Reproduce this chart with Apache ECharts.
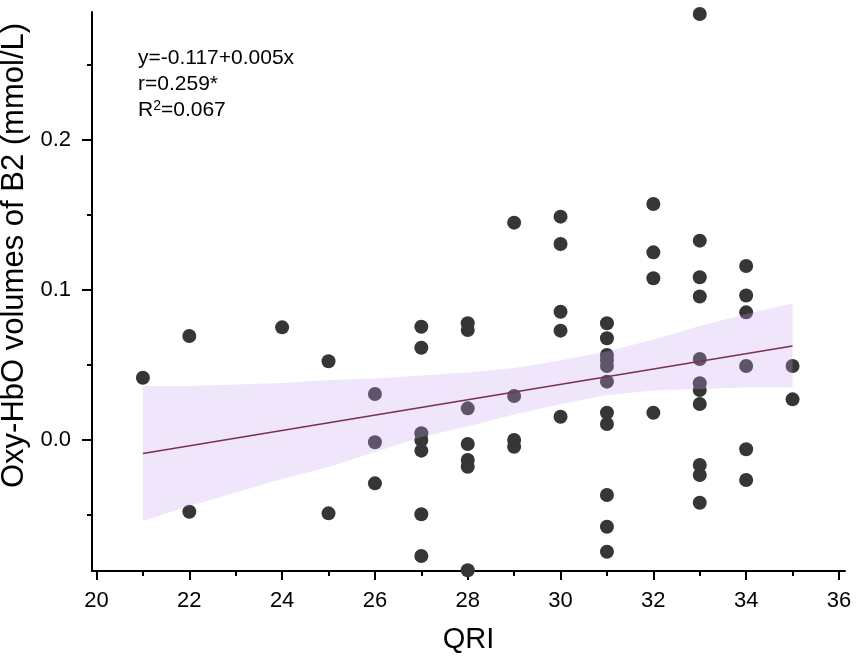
<!DOCTYPE html>
<html>
<head>
<meta charset="utf-8">
<script src="https://cdn.jsdelivr.net/npm/echarts@6/dist/echarts.min.js"></script>
<style>
html,body{margin:0;padding:0;background:#fff;}
#chart{width:856px;height:659px;}
</style>
</head>
<body>
<div id="chart"></div>
<script>
// Scatter data (QRI vs Oxy-HbO volumes of B2)
var qri = [
  21,
  22, 22,
  24,
  25, 25,
  26, 26, 26,
  27, 27, 27, 27, 27, 27, 27,
  28, 28, 28, 28, 28, 28, 28,
  29, 29, 29, 29,
  30, 30, 30, 30, 30,
  31, 31, 31, 31, 31, 31, 31, 31, 31, 31, 31,
  32, 32, 32, 32,
  33, 33, 33, 33, 33, 33, 33, 33, 33, 33, 33,
  34, 34, 34, 34, 34, 34,
  35, 35
];
var oxy = [
  0.0415,
  0.0693, -0.0478,
  0.0751,
  0.0525, -0.0489,
  0.0307, -0.0015, -0.0289,
  0.0755, 0.0615, 0.0045, 0.0000, -0.0071, -0.0495, -0.0773,
  0.0778, 0.0733, 0.0211, -0.0027, -0.0133, -0.0178, -0.0868,
  0.1449, 0.0293, 0.0000, -0.0045,
  0.1489, 0.1307, 0.0855, 0.0729, 0.0155,
  0.0778, 0.0678, 0.0567, 0.0533, 0.0493, 0.0389, 0.0182, 0.0107, -0.0367, -0.0578, -0.0745,
  0.1573, 0.1251, 0.1078, 0.0182,
  0.2840, 0.1329, 0.1085, 0.0957, 0.0540, 0.0378, 0.0333, 0.0240, -0.0167, -0.0233, -0.0418,
  0.1160, 0.0963, 0.0851, 0.0493, -0.0062, -0.0267,
  0.0493, 0.0271
];

// Fitted line end points
var fitX = [21, 35];
var fitY = [-0.0090, 0.0627];

// Confidence band
var bandX = [21, 22, 23, 24, 25, 26, 27, 28, 29, 30, 31, 32, 33, 34, 35];
var bandUpper = [0.036, 0.036, 0.037, 0.038, 0.040, 0.041, 0.043, 0.045, 0.048, 0.053, 0.059, 0.067, 0.076, 0.084, 0.091];
var bandLower = [-0.054, -0.044, -0.035, -0.026, -0.018, -0.008, 0.002, 0.009, 0.017, 0.024, 0.030, 0.033, 0.034, 0.035, 0.035];

// Axis ticks
var xMajorTicks = [20, 22, 24, 26, 28, 30, 32, 34, 36];
var xMinorTicks = [21, 23, 25, 27, 29, 31, 33, 35];
var yMajorTicks = [0.0, 0.1, 0.2];
var yMinorTicks = [-0.05, 0.05, 0.15, 0.25];

// Annotation text
var annoMain = ['y=-0.117+0.005x', 'r=0.259*'];

var FONT = 'Liberation Sans, Arial, sans-serif';
var chart = echarts.init(document.getElementById('chart'));

var scatterData = qri.map(function (x, i) { return [x, oxy[i]]; });
var fitData = fitX.map(function (x, i) { return [x, fitY[i]]; });

var X_MIN = 19.903, X_MAX = 36.13, Y_MIN = -0.08733, Y_MAX = 0.28533;

var lineStyle = { color: '#000', width: 2 };

var option = {
  animation: false,
  backgroundColor: '#fff',
  grid: { left: 92, right: 11, top: 12, bottom: 88, containLabel: false, outerBoundsMode: 'none' },
  xAxis: [
    {
      type: 'value', min: X_MIN, max: X_MAX, position: 'bottom',
      name: 'QRI', nameLocation: 'middle', nameGap: 54,
      nameTextStyle: { fontFamily: FONT, fontSize: 29, color: '#000' },
      axisLine: { show: true, onZero: false, lineStyle: lineStyle },
      axisTick: { show: true, length: 9, lineStyle: lineStyle, customValues: xMajorTicks },
      axisLabel: { show: true, margin: 19, fontFamily: FONT, fontSize: 22, color: '#000', customValues: xMajorTicks },
      splitLine: { show: false }
    },
    {
      type: 'value', min: X_MIN, max: X_MAX, position: 'bottom', offset: 0,
      axisLine: { show: false, onZero: false },
      axisTick: { show: true, length: 5, lineStyle: lineStyle, customValues: xMinorTicks },
      axisLabel: { show: false },
      splitLine: { show: false }
    }
  ],
  yAxis: [
    {
      type: 'value', min: Y_MIN, max: Y_MAX, position: 'left',
      name: 'Oxy-HbO volumes of B2 (mmol/L)', nameLocation: 'middle', nameGap: 57,
      nameTextStyle: { fontFamily: FONT, fontSize: 31, color: '#000', padding: [0, 0, 0, 72] },
      axisLine: { show: true, onZero: false, lineStyle: lineStyle },
      axisTick: { show: true, length: 10, lineStyle: lineStyle, customValues: yMajorTicks },
      axisLabel: {
        show: true, margin: 21, fontFamily: FONT, fontSize: 22, color: '#000',
        customValues: yMajorTicks,
        formatter: function (v) { return (Math.round(v * 10) / 10).toFixed(1); }
      },
      splitLine: { show: false }
    },
    {
      type: 'value', min: Y_MIN, max: Y_MAX, position: 'left', offset: 0,
      axisLine: { show: false, onZero: false },
      axisTick: { show: true, length: 5, lineStyle: lineStyle, customValues: yMinorTicks },
      axisLabel: { show: false },
      splitLine: { show: false }
    }
  ],
  graphic: [
    {
      type: 'text', left: 138, top: 48, z: 100,
      style: { text: annoMain[0], fontFamily: FONT, fontSize: 21, fill: '#000' }
    },
    {
      type: 'text', left: 138, top: 74, z: 100,
      style: { text: annoMain[1], fontFamily: FONT, fontSize: 21, fill: '#000' }
    },
    {
      type: 'text', left: 138, top: 99, z: 100,
      style: {
        text: 'R{sup|2}=0.067',
        fontFamily: FONT, fontSize: 21, fill: '#000',
        rich: {
          sup: { fontFamily: FONT, fontSize: 14, fill: '#000', verticalAlign: 'top', padding: [0, 0, 8, 0] }
        }
      }
    }
  ],
  series: [
    {
      type: 'scatter', xAxisIndex: 0, yAxisIndex: 0,
      data: scatterData, symbol: 'circle', symbolSize: 14,
      itemStyle: { color: '#363636', opacity: 1 },
      z: 2, clip: false
    },
    {
      type: 'custom', xAxisIndex: 0, yAxisIndex: 0, z: 3, clip: false,
      data: [[bandX[0], bandLower[0]]],
      renderItem: function (params, api) {
        var pts = [];
        for (var i = 0; i < bandX.length; i++) pts.push(api.coord([bandX[i], bandUpper[i]]));
        for (var j = bandX.length - 1; j >= 0; j--) pts.push(api.coord([bandX[j], bandLower[j]]));
        return {
          type: 'polygon',
          shape: { points: pts },
          style: { fill: 'rgba(201,166,241,0.28)', stroke: 'none' }
        };
      },
      silent: true
    },
    {
      type: 'line', xAxisIndex: 0, yAxisIndex: 0, z: 4,
      data: fitData, symbol: 'none',
      lineStyle: { color: '#7d2f50', width: 1.6 }
    }
  ]
};
chart.setOption(option);
</script>
</body>
</html>
